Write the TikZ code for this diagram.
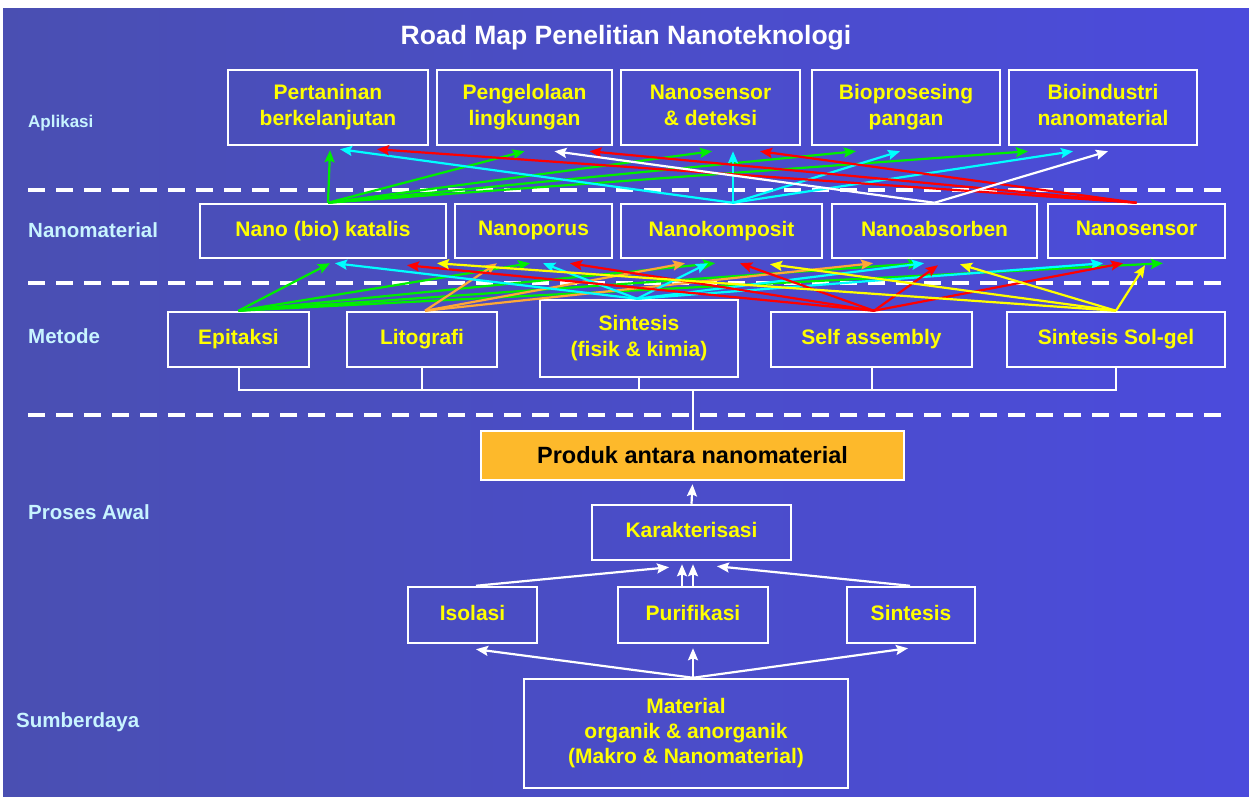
\documentclass[tikz,border=0pt]{standalone}
\usepackage{fontspec}
\setmainfont{Liberation Sans}
\usetikzlibrary{arrows.meta,calc}
\definecolor{bgL}{HTML}{4A4FB2}
\definecolor{bgR}{HTML}{4B4BDC}
\definecolor{lab}{HTML}{C8F4FF}
\definecolor{ylw}{HTML}{FFFF00}
\definecolor{gr}{HTML}{00EE00}
\definecolor{cy}{HTML}{00FFFF}
\definecolor{rd}{HTML}{FF0000}
\definecolor{orng}{HTML}{FFA836}
\definecolor{prod}{HTML}{FDB92B}
\newcommand\bxstrut{\rule[-4.5pt]{0pt}{18.5pt}}
\begin{document}
\begin{tikzpicture}[x=1pt,y=-1pt,
 box/.style={draw=white,line width=2.5pt,inner sep=0pt,text=ylw,font=\fontsize{21}{26}\selectfont\bfseries,align=center,execute at begin node=\bxstrut,execute at end node=\bxstrut},
 side/.style={anchor=west,text=lab,font=\fontsize{20.5}{25}\selectfont\bfseries,inner sep=0pt},
 arr/.style={line width=2.2pt,-{Stealth[length=12pt,width=10pt,inset=2pt]}},
 garr/.style={arr,draw=gr},
 carr/.style={arr,draw=cy},
 rarr/.style={arr,draw=rd},
 warr/.style={arr,draw=white},
 yarr/.style={arr,draw=ylw},
 oarr/.style={arr,draw=orng},
 sep/.style={draw=white,line width=4pt,dash pattern=on 17pt off 11pt},
 brk/.style={draw=white,line width=2pt}
]
\useasboundingbox (0,0) rectangle (1249,796);
\fill[white] (0,0) rectangle (1249,796);
\shade[left color=bgL,right color=bgR] (3,8) rectangle (1249,796);

% title
\node[text=white,font=\fontsize{26.5}{30}\selectfont\bfseries] (title) at (626,38) {Road Map Penelitian Nanoteknologi};

% side labels
\node[side,font=\fontsize{17}{20}\selectfont\bfseries] (lapl) at (28,123) {Aplikasi};
\node[side] (lnano) at (28,230) {Nanomaterial};
\node[side] (lmet) at (28,336) {Metode};
\node[side] (lpro) at (28,512) {Proses Awal};
\node[side] (lsum) at (16,722) {Sumberdaya};

% separators
\coordinate (s1a) at (28,190); \coordinate (s1b) at (1230,190);
\coordinate (s2a) at (28,283); \coordinate (s2b) at (1230,283);
\coordinate (s3a) at (28,415); \coordinate (s3b) at (1230,415);
\draw[sep] (s1a) -- (s1b);
\draw[sep] (s2a) -- (s2b);
\draw[sep] (s3a) -- (s3b);

% Aplikasi row
\node[box,minimum width=200pt,minimum height=75pt] (pert) at (328,107.5) {Pertaninan\\berkelanjutan};
\node[box,minimum width=175pt,minimum height=75pt] (peng) at (524.5,107.5) {Pengelolaan\\lingkungan};
\node[box,minimum width=179pt,minimum height=75pt] (nsd) at (710.5,107.5) {Nanosensor\\\& deteksi};
\node[box,minimum width=188pt,minimum height=75pt] (biop) at (906,107.5) {Bioprosesing\\pangan};
\node[box,minimum width=188pt,minimum height=75pt] (bioi) at (1103,107.5) {Bioindustri\\nanomaterial};

% Nanomaterial row
\node[box,minimum width=246pt,minimum height=54pt] (kat) at (323,231) {Nano (bio) katalis};
\node[box,minimum width=157pt,minimum height=54pt] (npor) at (533.5,231) {Nanoporus};
\node[box,minimum width=201pt,minimum height=54pt] (nkom) at (721.5,231) {Nanokomposit};
\node[box,minimum width=205pt,minimum height=54pt] (nabs) at (934.5,231) {Nanoabsorben};
\node[box,minimum width=177pt,minimum height=54pt] (nsen) at (1136.5,231) {Nanosensor};

% Metode row
\node[box,minimum width=141pt,minimum height=55pt] (epi) at (238.5,339.5) {Epitaksi};
\node[box,minimum width=150pt,minimum height=55pt] (lito) at (422,339.5) {Litografi};
\node[box,minimum width=198pt,minimum height=77pt] (sint) at (639,338.5) {Sintesis\\(fisik \& kimia)};
\node[box,minimum width=201pt,minimum height=55pt] (self) at (871.5,339.5) {Self assembly};
\node[box,minimum width=218pt,minimum height=55pt] (solg) at (1116,339.5) {Sintesis Sol-gel};

% Proses awal
\node[box,fill=prod,text=black,minimum width=423pt,minimum height=49pt,font=\fontsize{23.5}{27}\selectfont\bfseries,text depth=2pt] (prd) at (692.5,455.5) {Produk antara nanomaterial};
\node[box,minimum width=199pt,minimum height=55pt] (kar) at (691.5,532.5) {Karakterisasi};
\node[box,minimum width=129pt,minimum height=56pt] (iso) at (472.5,615) {Isolasi};
\node[box,minimum width=150pt,minimum height=56pt] (puri) at (693,615) {Purifikasi};
\node[box,minimum width=128pt,minimum height=56pt] (sin2) at (911,615) {Sintesis};
\node[box,minimum width=324pt,minimum height=109pt,font=\fontsize{21}{25}\selectfont\bfseries] (mat) at (686,733.5) {Material\\organik \& anorganik\\(Makro \& Nanomaterial)};

% bracket below Metode
\coordinate (bk) at (238.5,390);
\draw[brk] (epi.south) -- (epi.south |- bk) -- (solg.south |- bk) -- (solg.south);
\draw[brk] (lito.south) -- (lito.south |- bk);
\draw[brk] (sint.south) -- (sint.south |- bk);
\draw[brk] (self.south) -- (self.south |- bk);
\draw[brk] (prd.north) -- (prd.north |- bk);

% Metode -> Nanomaterial
% green from Epitaksi
\draw[garr] (epi.north) -- ($(kat.south)+(7,4)$);
\draw[garr] (epi.north) -- ($(npor.south)+(-3.5,4)$);
\draw[garr] (epi.north) -- ($(nkom.south)+(-6.5,4)$);
\draw[garr] (epi.north) -- ($(nabs.south)+(-14.5,4)$);
\draw[garr] (epi.north) -- ($(nsen.south)+(26.5,4)$);
% orange from Litografi
\draw[oarr] ($(lito.north)+(3,0)$) -- ($(npor.south)+(-36.5,4)$);
\draw[oarr] ($(lito.north)+(3,0)$) -- ($(nkom.south)+(-36.5,4)$);
\draw[oarr] ($(lito.north)+(3,0)$) -- ($(nabs.south)+(-61.5,4)$);
% cyan from Sintesis
\draw[carr] ($(sint.north)+(-2,0)$) -- ($(kat.south)+(12,4)$);
\draw[carr] ($(sint.north)+(-2,0)$) -- ($(npor.south)+(9.5,4)$);
\draw[carr] ($(sint.north)+(-2,0)$) -- ($(nkom.south)+(-13.5,4)$);
\draw[carr] ($(sint.north)+(-2,0)$) -- ($(nabs.south)+(-10.5,4)$);
\draw[carr] ($(sint.north)+(-2,0)$) -- ($(nsen.south)+(-33.5,4)$);
% red from Self assembly
\draw[rarr] ($(self.north)+(2.5,0)$) -- ($(kat.south)+(84,6)$);
\draw[rarr] ($(self.north)+(2.5,0)$) -- ($(npor.south)+(36.5,4)$);
\draw[rarr] ($(self.north)+(2.5,0)$) -- ($(nkom.south)+(18.5,4)$);
\draw[rarr] ($(self.north)+(2.5,0)$) -- ($(nabs.south)+(3.5,6)$);
\draw[rarr] ($(self.north)+(2.5,0)$) -- ($(nsen.south)+(-13.5,4)$);
% yellow from Sol-gel
\draw[yarr] (solg.north) -- ($(kat.south)+(114,4)$);
\draw[yarr] (solg.north) -- ($(nkom.south)+(48.5,5)$);
\draw[yarr] (solg.north) -- ($(nabs.south)+(25.5,5)$);
\draw[yarr] (solg.north) -- ($(nsen.south)+(8.5,6)$);

% Nanomaterial -> Aplikasi
\draw[garr] ($(kat.north)+(5,0)$) -- ($(pert.south)+(2,4)$);
\draw[garr] ($(kat.north)+(5,0)$) -- ($(peng.south)+(0,5)$);
\draw[garr] ($(kat.north)+(5,0)$) -- ($(nsd.south)+(1.5,5)$);
\draw[garr] ($(kat.north)+(5,0)$) -- ($(biop.south)+(-50,5)$);
\draw[garr] ($(kat.north)+(5,0)$) -- ($(bioi.south)+(-75,5)$);
\draw[carr] ($(nkom.north)+(11.5,0)$) -- ($(pert.south)+(12,3)$);
\draw[carr] ($(nkom.north)+(11.5,0)$) -- ($(nsd.south)+(22.5,5)$);
\draw[carr] ($(nkom.north)+(11.5,0)$) -- ($(biop.south)+(-6,5)$);
\draw[carr] ($(nkom.north)+(11.5,0)$) -- ($(bioi.south)+(-30,5)$);
\draw[rarr] (nsen.north) -- ($(pert.south)+(49,3)$);
\draw[rarr] (nsen.north) -- ($(peng.south)+(65,5)$);
\draw[rarr] (nsen.north) -- ($(nsd.south)+(49.5,5)$);
\draw[warr] (nabs.north) -- ($(peng.south)+(30,5)$);
\draw[warr] (nabs.north) -- ($(bioi.south)+(5,5)$);

% Proses awal arrows
\draw[warr] (kar.north) -- ($(prd.south)+(0,3)$);
\draw[warr] ($(iso.north)+(3.5,0)$) -- ($(kar.south)+(-22.5,6)$);
\draw[warr] ($(puri.north)+(-11,0)$) -- ($(kar.south)+(-9.5,3)$);
\draw[warr] (puri.north) -- ($(kar.south)+(1.5,3)$);
\draw[warr] ($(sin2.north)+(-1,0)$) -- ($(kar.south)+(25.5,5)$);
\draw[warr] ($(mat.north)+(7,0)$) -- ($(iso.south)+(3.5,5)$);
\draw[warr] ($(mat.north)+(7,0)$) -- ($(puri.south)+(0,4)$);
\draw[warr] ($(mat.north)+(7,0)$) -- ($(sin2.south)+(-3,4)$);
\end{tikzpicture}
\end{document}
